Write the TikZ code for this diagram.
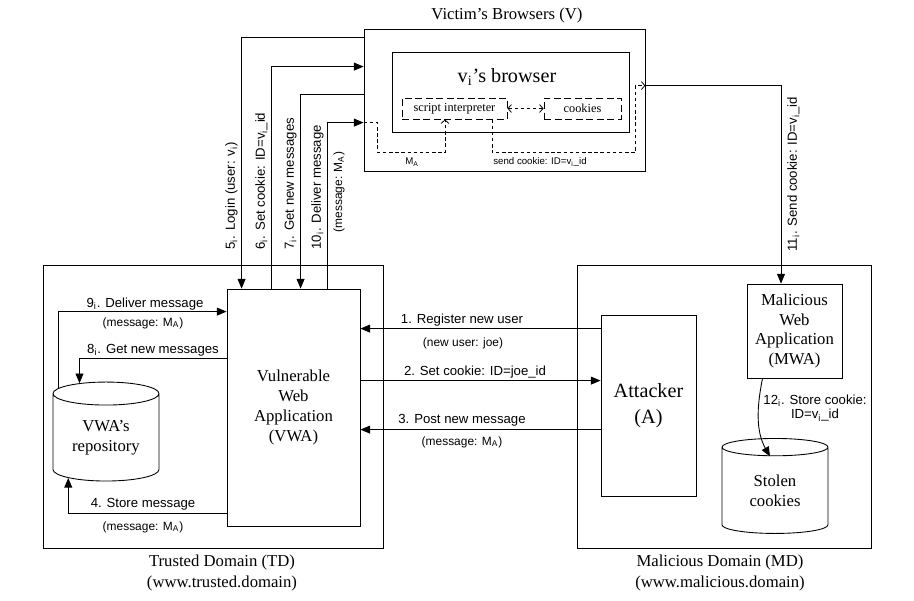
\documentclass[tikz,border=0pt]{standalone}
\usepackage{fontspec}
\setmainfont{Liberation Serif}
\newfontfamily\arialfont{Liberation Sans}
\usetikzlibrary{shapes.geometric,arrows.meta,calc}

\begin{document}
\begin{tikzpicture}[x=0.02cm,y=-0.02cm,line width=0.5pt]
\tikzstyle{every node}+=[inner sep=0pt]
\tikzstyle{box}=[draw,rectangle,align=center,font=\fontsize{9.5}{11.5}\selectfont]
\tikzstyle{dbox}=[draw,rectangle,dash pattern=on 4pt off 2pt,font=\fontsize{7}{8}\selectfont]
\tikzstyle{db}=[draw,cylinder,shape border rotate=90,aspect=0.34,align=center,font=\fontsize{9.5}{11.5}\selectfont]
\tikzstyle{title}=[align=center,font=\fontsize{9.5}{11.5}\selectfont]
\tikzstyle{lab}=[align=center,font=\arialfont\fontsize{7.5}{8.5}\selectfont]
\tikzstyle{sm}=[font=\arialfont\fontsize{6.8}{7.5}\selectfont]
\tikzstyle{tiny}=[font=\arialfont\fontsize{5.5}{6}\selectfont]
\tikzstyle{arr}=[-{Triangle[length=5.5pt,width=4.5pt]}]
\tikzstyle{darr}=[line width=0.45pt,dash pattern=on 2pt off 1.5pt,-{Straight Barb[length=2pt,width=4.5pt]}]
\useasboundingbox (0,0) rectangle (914,600);
\node[title] (vtitle) at (507,15) {Victim's Browsers (V)};
\node[box,minimum width=5.62cm,minimum height=2.84cm] (vbox) at (504.5,100) {};
\node[box,minimum width=4.74cm,minimum height=1.6cm] (inbox) at (510.5,92) {};
\node[font=\fontsize{11.5}{13}\selectfont] (vname) at (507,77) {v\textsubscript{i}'s browser};
\node[dbox,minimum width=2.1cm,minimum height=0.42cm] (script) at (454.5,108.5) {script interpreter};
\node[dbox,minimum width=1.54cm,minimum height=0.42cm] (cookies) at (582.5,108.5) {cookies};
\node[box,minimum width=6.8cm,minimum height=5.66cm] (td) at (213,406.5) {};
\node[title] (tdname) at (222,573) {Trusted Domain (TD)\\(www.trusted.domain)};
\node[box,minimum width=5.88cm,minimum height=5.66cm] (md) at (724,406.5) {};
\node[title] (mdname) at (720,573) {Malicious Domain (MD)\\(www.malicious.domain)};
\node[box,minimum width=2.66cm,minimum height=4.74cm] (vwa) at (293.5,407.5) {Vulnerable\\Web\\Application\\(VWA)};
\node[db,minimum width=2.12cm,minimum height=1.98cm] (repo) at (106,437.5) {VWA's\\repository};
\node[box,minimum width=1.9cm,minimum height=3.62cm,font=\fontsize{11.5}{14.5}\selectfont] (att) at (648.5,405.5) {Attacker\\(A)};
\node[box,minimum width=1.9cm,minimum height=1.88cm,font=\fontsize{9.5}{11.2}\selectfont] (mwa) at (794.5,331) {Malicious\\Web\\Application\\(MWA)};
\node[db,minimum width=2.12cm,minimum height=1.9cm] (stolen) at (775,490.5) {Stolen\\cookies};
\coordinate (m1) at ($(att.north west)+(0,14)$);
\coordinate (m2) at ($(att.north west)+(0,66)$);
\coordinate (m3) at ($(att.north west)+(0,115)$);
\draw[arr] ($(vbox.north west)+(0,9)$) -| ($(vwa.north west)+(15,0)$);
\draw[arr] ($(vwa.north west)+(45,0)$) |- ($(vbox.north west)+(0,38)$);
\draw[arr] ($(vbox.north west)+(0,66)$) -| ($(vwa.north west)+(74,0)$);
\draw[arr] ($(vwa.north west)+(101,0)$) |- ($(vbox.north west)+(0,94)$);
\draw[darr] ($(vbox.north west)+(0,94)$) -- ++(14,0) |- ($(script.south)+(-9.5,33)$) -- ($(script.south)+(-9.5,0)$);
\draw[darr] ($(script.south)+(37.5,0)$) |- ($(vbox.south east)+(-10,-19)$) |- ($(vbox.north east)+(0,57)$);
\draw[darr,{Straight Barb[length=2pt,width=4.5pt]}-{Straight Barb[length=2pt,width=4.5pt]}] (script) -- (cookies);
\draw[arr] ($(vbox.north east)+(0,57)$) -| ($(mwa.north)+(-13.5,0)$);
\draw[arr] ($(mwa.south)+(-32,0)$) .. controls +(-6,30) and +(-14,-25) .. ($(stolen.center)+(-5,-34)$);
\draw[arr] (repo.134) |- ($(vwa.north west)+(0,23)$);
\draw[arr] ($(vwa.north west)+(0,70)$) -| (repo.116);
\draw[arr] ($(vwa.south west)+(0,-13)$) -| (repo.227);
\draw[arr] (m1) -- (vwa.east |- m1);
\draw[arr] (vwa.east |- m2) -- (m2);
\draw[arr] (m3) -- (vwa.east |- m3);
\node[lab,rotate=90,anchor=south west] (l5) at (238,250) {5\textsubscript{i}. Login (user: v\textsubscript{i})};
\node[lab,rotate=90,anchor=south west] (l6) at (268,250) {6\textsubscript{i}. Set cookie: ID=v\textsubscript{i}\_id};
\node[lab,rotate=90,anchor=south west] (l7) at (297,250) {7\textsubscript{i}. Get new messages};
\node[lab,rotate=90,anchor=south west] (l10) at (324,250) {10\textsubscript{i}. Deliver message};
\node[sm,rotate=90,anchor=north] (l10b) at (333,192) {(message: M\textsubscript{A})};
\node[lab,rotate=90,anchor=north west] (l11) at (787,252) {11\textsubscript{i}. Send cookie: ID=v\textsubscript{i}\_id};
\node[lab] (l12) at (815,408) {12\textsubscript{i}. Store cookie:\\ID=v\textsubscript{i}\_id};
\node[tiny] (lma) at (412,162) {M\textsubscript{A}};
\node[tiny] (lsend) at (540,162) {send cookie: ID=v\textsubscript{i}\_id};
\node[lab] (l1) at (462,320) {1. Register new user};
\node[sm] (l1b) at (463,343) {(new user: joe)};
\node[lab] (l2) at (475,372) {2. Set cookie: ID=joe\_id};
\node[lab] (l3) at (462,420) {3. Post new message};
\node[sm] (l3b) at (462,442) {(message: M\textsubscript{A})};
\node[lab] (l9) at (145,304) {9\textsubscript{i}. Deliver message};
\node[sm] (l9b) at (143,323) {(message: M\textsubscript{A})};
\node[lab] (l8) at (153,350) {8\textsubscript{i}. Get new messages};
\node[lab] (l4) at (143,504) {4. Store message};
\node[sm] (l4b) at (143,527) {(message: M\textsubscript{A})};
\end{tikzpicture}
\end{document}
